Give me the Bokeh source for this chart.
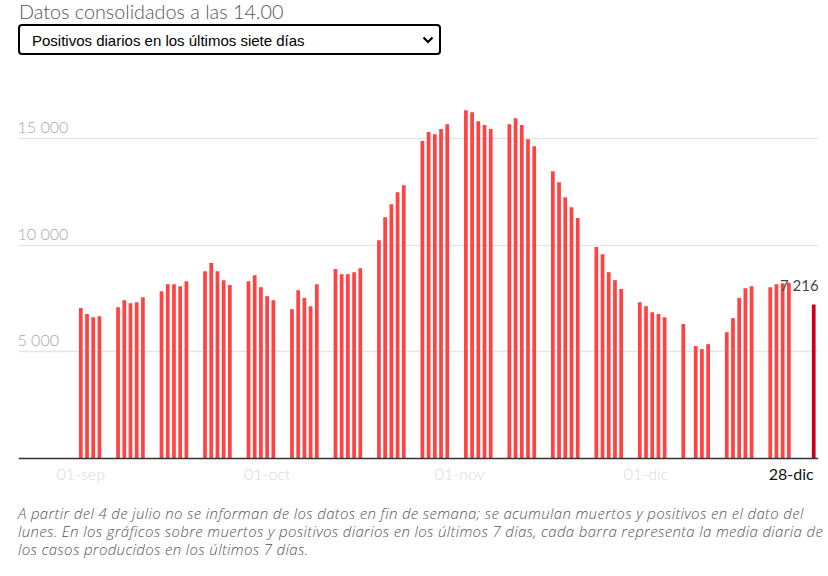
import pandas as pd
from bokeh.plotting import figure
from bokeh.models import Range1d, Div
from bokeh.layouts import column
from bokeh.core.properties import value
from bokeh.embed import file_html
from bokeh.resources import INLINE

# ---------------- data ----------------
title_text = "Datos consolidados a las 14.00"
select_text = "Positivos diarios en los últimos siete días"
note_lines = [
    "A partir del 4 de julio no se informan de los datos en fin de semana; se acumulan muertos y positivos en el dato del",
    "lunes. En los gráficos sobre muertos y positivos diarios en los últimos 7 días, cada barra representa la media diaria de",
    "los casos producidos en los últimos 7 días.",
]

dates = [
    "2020-09-01", "2020-09-02", "2020-09-03", "2020-09-04",
    "2020-09-07", "2020-09-08", "2020-09-09", "2020-09-10", "2020-09-11",
    "2020-09-14", "2020-09-15", "2020-09-16", "2020-09-17", "2020-09-18",
    "2020-09-21", "2020-09-22", "2020-09-23", "2020-09-24", "2020-09-25",
    "2020-09-28", "2020-09-29", "2020-09-30", "2020-10-01", "2020-10-02",
    "2020-10-05", "2020-10-06", "2020-10-07", "2020-10-08", "2020-10-09",
    "2020-10-12", "2020-10-13", "2020-10-14", "2020-10-15", "2020-10-16",
    "2020-10-19", "2020-10-20", "2020-10-21", "2020-10-22", "2020-10-23",
    "2020-10-26", "2020-10-27", "2020-10-28", "2020-10-29", "2020-10-30",
    "2020-11-02", "2020-11-03", "2020-11-04", "2020-11-05", "2020-11-06",
    "2020-11-09", "2020-11-10", "2020-11-11", "2020-11-12", "2020-11-13",
    "2020-11-16", "2020-11-17", "2020-11-18", "2020-11-19", "2020-11-20",
    "2020-11-23", "2020-11-24", "2020-11-25", "2020-11-26", "2020-11-27",
    "2020-11-30", "2020-12-01", "2020-12-02", "2020-12-03", "2020-12-04",
    "2020-12-07", "2020-12-09", "2020-12-10", "2020-12-11",
    "2020-12-14", "2020-12-15", "2020-12-16", "2020-12-17", "2020-12-18",
    "2020-12-21", "2020-12-22", "2020-12-23", "2020-12-24",
]
positives = [
    7050, 6770, 6620, 6670,
    7090, 7420, 7280, 7330, 7560,
    7840, 8170, 8170, 8080, 8310,
    8780, 9160, 8780, 8360, 8130,
    8310, 8590, 8030, 7610, 7420,
    7000, 7890, 7520, 7140, 8170,
    8880, 8640, 8640, 8730, 8920,
    10230, 11310, 11920, 12480, 12810,
    14880, 15300, 15200, 15440, 15670,
    16330, 16230, 15810, 15630, 15440,
    15670, 15950, 15630, 14970, 14640,
    13470, 12950, 12250, 11780, 11270,
    9910, 9580, 8730, 8360, 7940,
    7330, 7140, 6860, 6770, 6620,
    6300, 5270, 5130, 5360,
    5920, 6580, 7520, 7980, 8080,
    8030, 8170, 8220, 8240,
]
last_date = "2020-12-28"
last_value = 7216
last_label = "7 216"

y_ticks = [5000, 10000, 15000]
y_tick_labels = ["5 000", "10 000", "15 000"]
x_ticks = ["2020-09-01", "2020-10-01", "2020-11-01", "2020-12-01"]
x_tick_labels = ["01-sep", "01-oct", "01-nov", "01-dic"]
last_tick_label = "28-dic"

# ---------------- styles ----------------
BAR = "#ff4343"
LAST = "#c8001e"
DAY = pd.Timedelta(days=1)
DAY_MS = 86400000
LIGHT = value("Lato Light")
REG = value("Lato")

x_start = pd.Timestamp(dates[0]) - 10.03 * DAY
x_end = pd.Timestamp(last_date) + 0.77 * DAY

p = figure(frame_width=800, frame_height=416,
           x_range=Range1d(x_start, x_end), y_range=Range1d(-1500, 18000),
           x_axis_type=None, y_axis_type=None,
           output_backend="svg", toolbar_location=None,
           min_border_left=18, min_border_right=10,
           min_border_top=0, min_border_bottom=0,
           outline_line_color=None, background_fill_color="white",
           border_fill_color="white", margin=0)

p.hspan(y=y_ticks, line_color="#e6e6e6", line_width=1.3)

p.vbar(x=pd.to_datetime(dates), top=positives, bottom=0, width=0.6 * DAY_MS,
       fill_color=BAR, line_color=None)
p.vbar(x=pd.to_datetime([last_date]), top=[last_value], bottom=0, width=0.6 * DAY_MS,
       fill_color=LAST, line_color=None)

p.hspan(y=[0], line_color="#333333", line_width=1.5)

p.text(x=[x_start] * len(y_ticks), y=y_ticks, text=y_tick_labels,
       text_align="left", text_baseline="alphabetic", x_offset=-1, y_offset=-12,
       text_font=LIGHT, text_font_size="16px", text_color="#a8a8a8")

p.text(x=pd.to_datetime(x_ticks), y=[0] * len(x_ticks), text=x_tick_labels,
       text_align="center", text_baseline="alphabetic", y_offset=15,
       text_font=LIGHT, text_font_size="16px", text_color="#d9d9d9")

p.text(x=pd.to_datetime([last_date]), y=[0], text=[last_tick_label],
       text_align="right", text_baseline="alphabetic", x_offset=0, y_offset=15,
       text_font=REG, text_font_size="16px", text_color="#111111")

p.text(x=pd.to_datetime([last_date]), y=[last_value], text=[last_label],
       text_align="right", text_baseline="alphabetic", x_offset=5, y_offset=-20,
       text_font=REG, text_font_size="15px", text_color="#444444")

header_html = f"""
<div style="position:relative;width:828px;height:74px;">
  <div style="position:absolute;left:19px;top:2.3px;font-family:'Lato Light','Lato',sans-serif;font-weight:300;
              font-size:19.8px;line-height:19.8px;color:#555;white-space:nowrap;">{title_text}</div>
  <div style="position:absolute;left:18px;top:24px;width:423px;height:31px;box-sizing:border-box;
              border:2px solid #000;border-radius:4px;"></div>
  <div style="position:absolute;left:32px;top:33px;font-family:'Liberation Sans',Arial,sans-serif;
              font-size:15px;line-height:15px;color:#000;white-space:nowrap;">{select_text}</div>
  <svg style="position:absolute;left:422px;top:36px" width="12" height="8">
    <path d="M1.5 1.5 L6 6 L10.5 1.5" stroke="#000" stroke-width="2.2" fill="none"/></svg>
</div>
"""
header = Div(text=header_html, width=828, height=74, margin=0)

note_html = f"""
<div style="position:relative;width:828px;height:76px;">
  <div style="position:absolute;left:18px;top:13.7px;font-family:'Open Sans',sans-serif;font-weight:300;
              font-style:italic;font-size:15px;letter-spacing:0.35px;line-height:18.35px;color:#555;
              white-space:nowrap;">
{'<br>'.join(note_lines)}
  </div>
</div>
"""
footer = Div(text=note_html, width=828, height=76, margin=0)

layout = column(header, p, footer, spacing=0)

open("out.html", "w").write(file_html(layout, INLINE))
